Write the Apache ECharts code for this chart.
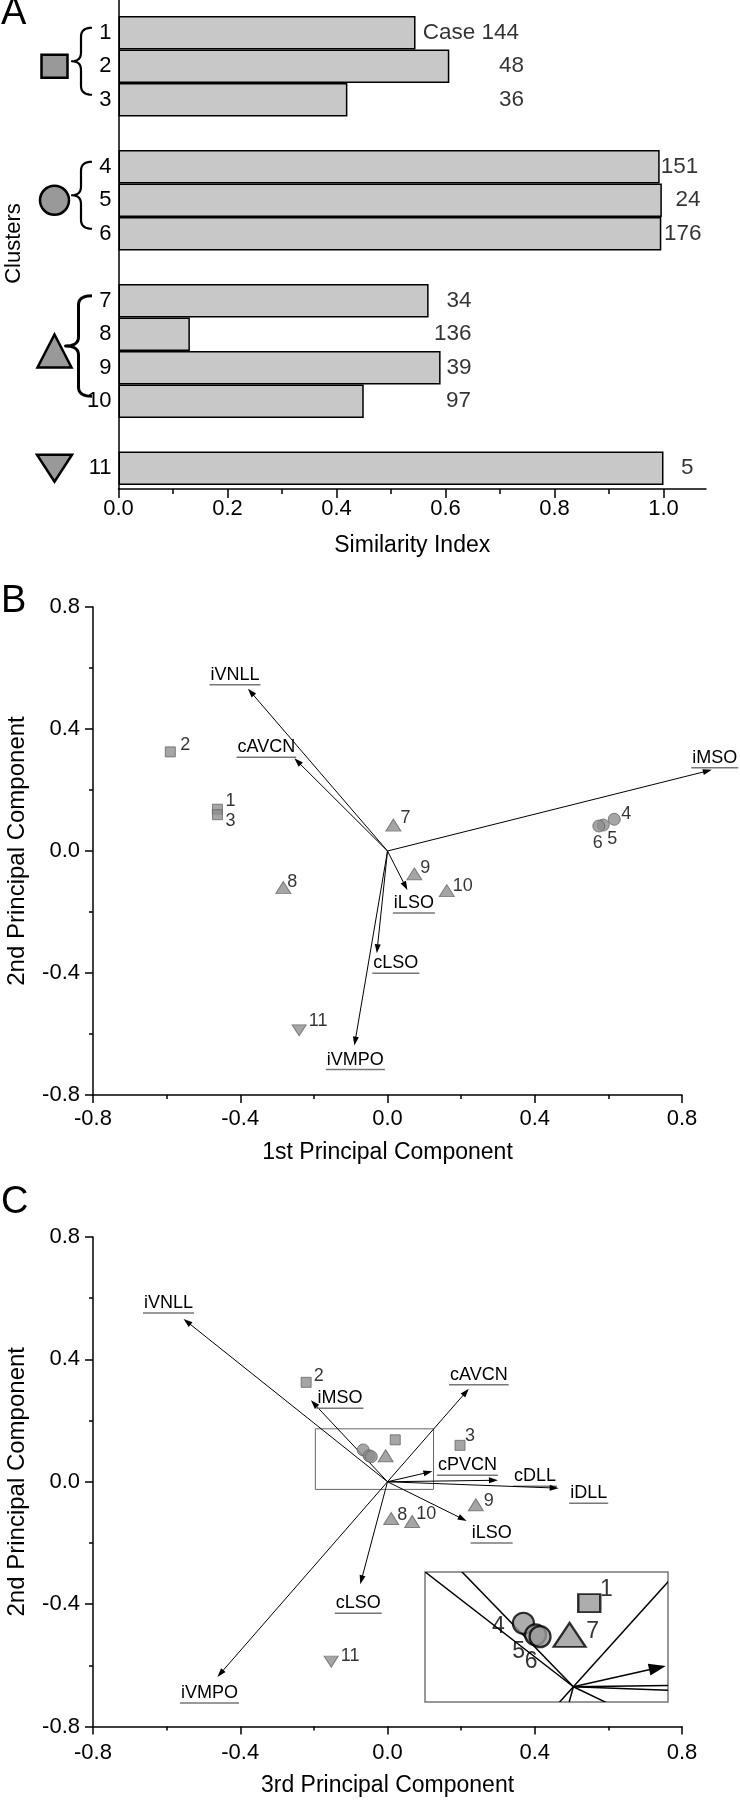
<!DOCTYPE html>
<html><head><meta charset="utf-8">
<script src="https://cdn.jsdelivr.net/npm/echarts@6/dist/echarts.min.js"></script>
<style>html,body{margin:0;padding:0;background:#fff}#c{width:740px;height:1800px}</style>
</head><body><div id="c"></div>
<script>
// ---------------- Panel A data ----------------
const clusterLabels   = ['1','2','3','','4','5','6','','7','8','9','10','','11'];
const similarityIndex = [0.545,0.607,0.420,null,0.993,0.997,0.996,null,0.569,0.131,0.591,0.450,null,1.000];
const caseNumbers     = ['Case 144','48','36','','151','24','176','','34','136','39','97','','5'];
const caseLabelRight  = [0.735,0.744,0.744,null,1.064,1.068,1.070,null,0.648,0.648,0.648,0.647,null,1.055];
const clusterGroups   = [
  {first:0,  last:2,  shape:'square'},
  {first:4,  last:6,  shape:'circle'},
  {first:8,  last:11, shape:'triangle'},
  {first:13, last:13, shape:'invTriangle'}
];
const xTicksA      = [0,0.2,0.4,0.6,0.8,1.0];
const xMinorTicksA = [0.1,0.3,0.5,0.7,0.9];

// ---------------- PCA data (clusters 1..11) ----------------
const clusterIds   = [1,2,3,4,5,6,7,8,9,10,11];
const clusterShape = ['square','square','square','circle','circle','circle','triangle','triangle','triangle','triangle','invTriangle'];
const pc1 = [-0.462,-0.590,-0.462, 0.616, 0.586, 0.574, 0.016,-0.283, 0.073, 0.161,-0.240];
const pc2 = [ 0.137, 0.325, 0.119, 0.104, 0.085, 0.082, 0.085,-0.120,-0.075,-0.130,-0.588];
const pc3 = [ 0.021,-0.221, 0.197,-0.066,-0.050,-0.044,-0.005, 0.010, 0.240, 0.067,-0.153];

const loadingNames = ['iVNLL','cAVCN','iMSO','iLSO','cLSO','iVMPO','cPVCN','cDLL','iDLL'];
const loadingPC1   = [-0.379,-0.253, 0.881, 0.054,-0.029,-0.090, null, null, null];
const loadingPC2   = [ 0.532, 0.304, 0.266,-0.128,-0.335,-0.638, 0.034, 0.005,-0.021];
const loadingPC3   = [-0.554, 0.221,-0.208, 0.215,-0.074,-0.462, 0.122, 0.300, 0.465];

const insetClusters = [1,4,5,6,7];
const zoomBox   = {x:[-0.196,0.125], y:[-0.025,0.173]};
const insetView = {x:[-0.196,0.125], y:[-0.025,0.188]};

// ---------------- styles / layout (not data) ----------------
const FONT = '"Liberation Sans", Arial, Helvetica, sans-serif';
const BAR_FILL = '#c8c8c8';
const MARK_FILL = '#999999';
const PT_FILL = '#8e8e8e', PT_BORDER = '#666666';
const UNDERLINE = '#777777';
const TICK_FS = 22, TITLE_FS = 23, VEC_FS = 18, PT_FS = 18;

const symMain  = {square:{s:'rect',r:0,size:[10,10]}, circle:{s:'circle',r:0,size:[12,12]}, triangle:{s:'triangle',r:0,size:[15,12]}, invTriangle:{s:'triangle',r:180,size:[14,11]}};
const symInset = {square:{s:'rect',r:0,size:[22,18]}, circle:{s:'circle',r:0,size:[21,21]}, triangle:{s:'triangle',r:0,size:[32,24]}};

const ptLabelB = {1:[13,-8.5],2:[15,-7],3:[13,6],4:[12,-5],5:[9,14],6:[-1,17],7:[12,-7.5],8:[9,-6],9:[11,-6],10:[16,-5],11:[19,-9]};
const ptLabelC = {2:[12.5,-6.5],3:[10,-9],8:[11,-3],9:[13,-3.5],10:[14,-7],11:[19,-6]};
const ptLabelInset = {1:[17,-13],4:[-25,3],5:[-17,17],6:[-9,25],7:[23,-3]};

const vecLabelB = {iVNLL:[-13,-4], cAVCN:[-28,-1], iMSO:[3,-2], iLSO:[6.5,23], cLSO:[19,20], iVMPO:[1,24]};
const vecLabelC = {iVNLL:[-15,-6], iMSO:[29,8], cAVCN:[10,-4], cPVCN:[35,4], cDLL:[37,6], iDLL:[30,15], iLSO:[25,22], cLSO:[-2,29], iVMPO:[-8,26]};

const mctx = document.createElement('canvas').getContext('2d');
function measure(text, size){ mctx.font = size + 'px ' + FONT; return mctx.measureText(text).width; }
function fmt1(v){ return (Math.abs(v)<1e-9?0:v).toFixed(1); }

// ---------------- render helpers ----------------
function quadPts(p0, c, p1, n){
  const out=[]; for(let i=1;i<=n;i++){const t=i/n, a=(1-t)*(1-t), b=2*(1-t)*t, d=t*t;
    out.push([a*p0[0]+b*c[0]+d*p1[0], a*p0[1]+b*c[1]+d*p1[1]]);} return out;
}
function bracePoints(xe, xs, xt, yT, yB){
  const ym=(yT+yB)/2, r=9;
  let pts=[[xe,yT]];
  pts=pts.concat(quadPts([xe,yT],[xs,yT],[xs,yT+r],8));
  pts.push([xs,ym-r]);
  pts=pts.concat(quadPts([xs,ym-r],[xs,ym],[xt,ym],8));
  pts=pts.concat(quadPts([xt,ym],[xs,ym],[xs,ym+r],8));
  pts.push([xs,yB-r]);
  pts=pts.concat(quadPts([xs,yB-r],[xs,yB],[xe,yB],8));
  return pts;
}
function markerShape(shape, cx, cy){
  const st={fill:MARK_FILL, stroke:'#000', lineWidth:2.5};
  if(shape==='square') return {type:'rect', shape:{x:cx-13,y:cy-11.5,width:26,height:23}, style:st};
  if(shape==='circle') return {type:'circle', shape:{cx:cx,cy:cy,r:14.5}, style:st};
  if(shape==='triangle') return {type:'polygon', shape:{points:[[cx,cy-16.5],[cx+17,cy+16.5],[cx-17,cy+16.5]]}, style:st};
  return {type:'polygon', shape:{points:[[cx-17.5,cy-13.5],[cx+17.5,cy-13.5],[cx,cy+13.5]]}, style:st};
}
function renderGroups(params, api){
  const g = clusterGroups[params.dataIndex];
  const p1 = api.coord([0, g.first]), p2 = api.coord([0, g.last]);
  const ax = p1[0];
  const cy = (p1[1]+p2[1])/2;
  const ch = [];
  if (g.last > g.first){
    const thick = g.shape==='triangle';
    const pts = bracePoints(ax-26.5, ax-(thick?40:37.5), ax-(thick?53:46.5), p1[1]-5, p2[1]-5);
    ch.push({type:'polyline', shape:{points:pts}, style:{stroke:'#000', fill:null, lineWidth:thick?3:2.2, lineJoin:'round'}});
  }
  ch.push(markerShape(g.shape, ax-64, cy));
  return {type:'group', children:ch};
}
function makeVectorRender(cfg){
  return function(params, api){
    const idx = api.value(2);
    const o = api.coord([0,0]);
    const t = api.coord([api.value(0), api.value(1)]);
    const dx=t[0]-o[0], dy=t[1]-o[1], L=Math.hypot(dx,dy)||1;
    const ux=dx/L, uy=dy/L;
    const bx=t[0]-ux*cfg.head, by=t[1]-uy*cfg.head;
    const ch=[
      {type:'line', shape:{x1:o[0],y1:o[1],x2:bx+ux*1,y2:by+uy*1}, style:{stroke:'#000', lineWidth:cfg.lw}},
      {type:'polygon', shape:{points:[[t[0],t[1]],[bx-uy*cfg.hw,by+ux*cfg.hw],[bx+uy*cfg.hw,by-ux*cfg.hw]]}, style:{fill:'#000'}}
    ];
    if (cfg.labels){
      const name = loadingNames[idx]; const off = cfg.labels[name];
      const cx = t[0]+off[0], ul = t[1]+off[1];
      const w = measure(name, VEC_FS);
      ch.push({type:'text', style:{text:name, x:cx, y:ul-1, font:VEC_FS+'px '+FONT, fill:'#000', textAlign:'center', align:'center', textVerticalAlign:'bottom', verticalAlign:'bottom'}});
      ch.push({type:'line', shape:{x1:cx-w/2-1, y1:ul, x2:cx+w/2+1, y2:ul}, style:{stroke:UNDERLINE, lineWidth:1.5}});
    }
    return {type:'group', children:ch};
  };
}
function pointItems(xs, ys, which, symSet, offsets, fontSize){
  const items=[];
  which.forEach(function(id){
    const i = id-1; const sh = symSet[clusterShape[i]];
    const off = offsets[id];
    items.push({
      value:[xs[i], ys[i]], symbol:sh.s, symbolSize:sh.size, symbolRotate:sh.r,
      label: off ? {show:true, position:'inside', offset:off, formatter:String(id), fontSize:fontSize, color:'#000'} : {show:false}
    });
  });
  return items;
}
function pcAxis(grid, name, extra){
  return Object.assign({
    gridIndex:grid, type:'value', min:-0.8, max:0.8, interval:0.4,
    axisLine:{show:true, onZero:false, lineStyle:{color:'#000', width:1.5}},
    axisTick:{show:true, inside:false, length:8, lineStyle:{color:'#000', width:1.5}},
    minorTick:{show:true, splitNumber:2, length:4, lineStyle:{color:'#000', width:1.5}},
    splitLine:{show:false}, minorSplitLine:{show:false},
    axisLabel:{fontSize:TICK_FS, color:'#000', formatter:fmt1},
    name:name, nameLocation:'middle', nameTextStyle:{fontSize:TITLE_FS, color:'#000'}
  }, extra);
}
const letterStyle = {fontSize:38, fontWeight:'normal', color:'#000', fontFamily:FONT};

// ---------------- build series data ----------------
const barData = similarityIndex.map(v => v==null ? '-' : v);
const caseLabelItems = [];
caseLabelRight.forEach(function(x,i){ if(x!=null) caseLabelItems.push({value:[x,i], label:{formatter:caseNumbers[i]}}); });

const vecB = [], vecC = [];
loadingNames.forEach(function(n,i){
  if (loadingPC1[i]!=null) vecB.push([loadingPC1[i], loadingPC2[i], i]);
  vecC.push([loadingPC3[i], loadingPC2[i], i]);
});

const option = {
  animation:false,
  backgroundColor:'#fff',
  textStyle:{fontFamily:FONT, color:'#000'},
  title:[
    {text:'A', left:1, top:-5, padding:0, textStyle:letterStyle},
    {text:'B', left:1, top:583, padding:0, textStyle:letterStyle},
    {text:'C', left:1, top:1184, padding:0, textStyle:letterStyle}
  ],
  grid:[
    {left:118.5, top:16,   width:587.5, height:469,  outerBoundsMode:'none', containLabel:false},
    {left:118.5, top:0,    width:587.5, height:489,  outerBoundsMode:'none', containLabel:false},
    {left:93,    top:607,  width:589,   height:488,  outerBoundsMode:'none', containLabel:false},
    {left:93,    top:1237, width:589,   height:489.5,outerBoundsMode:'none', containLabel:false},
    {left:425,   top:1572, width:243,   height:130,  outerBoundsMode:'none', containLabel:false, show:true, borderColor:'#777', borderWidth:1.5, backgroundColor:'rgba(0,0,0,0)'}
  ],
  xAxis:[
    {gridIndex:0, type:'value', min:0, max:1.078, show:false},
    {gridIndex:1, type:'value', min:0, max:1.078, position:'bottom',
      axisLine:{show:true, onZero:false, lineStyle:{color:'#000', width:1.5}},
      axisTick:{show:true, length:9, customValues:xTicksA, lineStyle:{color:'#000', width:1.5}},
      axisLabel:{show:true, customValues:xTicksA, fontSize:TICK_FS, color:'#000', margin:9, formatter:function(v){return v.toFixed(1);}},
      splitLine:{show:false},
      name:'Similarity Index', nameLocation:'middle', nameGap:45, nameTextStyle:{fontSize:TITLE_FS, color:'#000'}},
    {gridIndex:1, type:'value', min:0, max:1.078, position:'bottom',
      axisLine:{show:false}, axisTick:{show:true, length:5, customValues:xMinorTicksA, lineStyle:{color:'#000', width:1.5}},
      axisLabel:{show:false}, splitLine:{show:false}},
    pcAxis(2, '1st Principal Component', {nameGap:46, axisLabel:{fontSize:TICK_FS, color:'#000', margin:13, formatter:fmt1}}),
    pcAxis(3, '3rd Principal Component', {nameGap:48, axisLabel:{fontSize:TICK_FS, color:'#000', margin:15, formatter:fmt1}}),
    {gridIndex:4, type:'value', min:insetView.x[0], max:insetView.x[1], show:false}
  ],
  yAxis:[
    {gridIndex:0, type:'category', inverse:true, data:clusterLabels,
      axisLine:{show:false}, axisTick:{show:false}, splitLine:{show:false},
      axisLabel:{fontSize:22, color:'#000', margin:7},
      name:'Clusters', nameLocation:'middle', nameGap:94, nameRotate:90, nameTextStyle:{fontSize:22, color:'#000', padding:[0,0,0,14]}},
    {gridIndex:1, type:'value', min:0, max:1,
      axisLine:{show:true, onZero:false, lineStyle:{color:'#000', width:1.5}},
      axisTick:{show:false}, axisLabel:{show:false}, splitLine:{show:false}},
    pcAxis(2, '2nd Principal Component', {nameGap:64, nameTextStyle:{fontSize:24, color:'#000'}, axisLabel:{fontSize:TICK_FS, color:'#000', margin:13, formatter:fmt1}}),
    pcAxis(3, '2nd Principal Component', {nameGap:64, nameTextStyle:{fontSize:24, color:'#000'}, axisLabel:{fontSize:TICK_FS, color:'#000', margin:13, formatter:fmt1}}),
    {gridIndex:4, type:'value', min:insetView.y[0], max:insetView.y[1], show:false}
  ],
  series:[
    {type:'bar', xAxisIndex:0, yAxisIndex:0, data:barData, barWidth:'100%', barGap:0,
      itemStyle:{color:BAR_FILL, borderColor:'#000', borderWidth:1.5}, z:2},
    {type:'scatter', xAxisIndex:0, yAxisIndex:0, data:caseLabelItems, symbolSize:0.1,
      itemStyle:{color:'rgba(0,0,0,0)'}, label:{show:true, position:'left', distance:0, fontSize:22.5, color:'#000'}, z:3},
    {type:'custom', xAxisIndex:0, yAxisIndex:0, data:clusterGroups.map(g=>[0,g.first]), renderItem:renderGroups, clip:false, z:4},

    {type:'custom', xAxisIndex:3, yAxisIndex:2, data:vecB, clip:false, z:2,
      renderItem:makeVectorRender({head:9, hw:3, lw:1, labels:vecLabelB})},
    {type:'scatter', xAxisIndex:3, yAxisIndex:2, data:pointItems(pc1, pc2, clusterIds, symMain, ptLabelB, PT_FS),
      itemStyle:{color:PT_FILL, borderColor:PT_BORDER, borderWidth:1}, z:3},

    {type:'custom', xAxisIndex:4, yAxisIndex:3, data:[[zoomBox.x[0], zoomBox.y[0], zoomBox.x[1], zoomBox.y[1]]], clip:false, z:1,
      renderItem:function(params, api){
        const a = api.coord([api.value(0), api.value(3)]), b = api.coord([api.value(2), api.value(1)]);
        return {type:'rect', shape:{x:a[0], y:a[1], width:b[0]-a[0], height:b[1]-a[1]}, style:{fill:null, stroke:'#666', lineWidth:1}};
      }},
    {type:'custom', xAxisIndex:4, yAxisIndex:3, data:vecC, clip:false, z:2,
      renderItem:makeVectorRender({head:9, hw:3, lw:1, labels:vecLabelC})},
    {type:'scatter', xAxisIndex:4, yAxisIndex:3, data:pointItems(pc3, pc2, clusterIds, symMain, ptLabelC, PT_FS),
      itemStyle:{color:PT_FILL, borderColor:PT_BORDER, borderWidth:1}, z:3},

    {type:'custom', xAxisIndex:5, yAxisIndex:4, data:vecC, clip:true, z:2,
      renderItem:makeVectorRender({head:17, hw:6, lw:1.5, labels:null})},
    {type:'scatter', xAxisIndex:5, yAxisIndex:4, data:pointItems(pc3, pc2, insetClusters, symInset, ptLabelInset, 23),
      itemStyle:{color:MARK_FILL, borderColor:'#000', borderWidth:2.2}, clip:false, z:3}
  ]
};

const chart = echarts.init(document.getElementById('c'), null, {renderer:'canvas', width:740, height:1800});
chart.setOption(option);
</script>
</body></html>
